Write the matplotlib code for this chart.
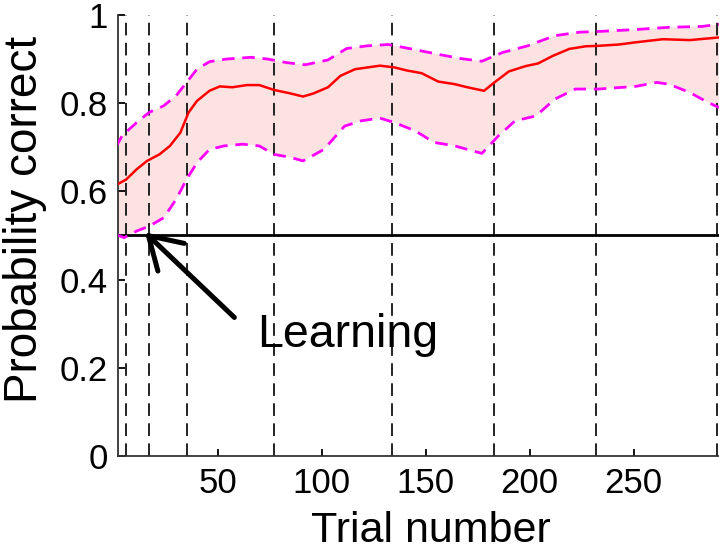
import matplotlib
matplotlib.use("Agg")
import matplotlib.pyplot as plt

# mean probability correct (red) and its confidence bounds (magenta)
mean_x = [1, 6, 11, 16, 22, 27, 32, 36, 40, 46, 51, 57, 64, 70, 77, 85, 91, 96,
          103, 109, 116, 122, 128, 135, 141, 148, 156, 164, 170, 178, 183, 190,
          198, 204, 211, 219, 227, 233, 243, 251, 264, 277, 291]
mean_y = [.614, .627, .65, .669, .684, .703, .733, .779, .805, .828, .838, .836,
          .841, .841, .83, .822, .815, .822, .836, .862, .877, .881, .885, .881,
          .874, .868, .849, .843, .836, .828, .847, .872, .884, .89, .907, .923,
          .929, .93, .933, .938, .945, .943, .949]

upper_x = [1, 4, 11, 17, 24, 30, 35, 40, 46, 54, 66, 74, 83, 92, 103, 112, 122,
           132, 143, 158, 167, 177, 187, 199, 212, 224, 235, 251, 267, 283, 291]
upper_y = [.70, .726, .756, .779, .794, .817, .847, .877, .894, .90, .904, .90,
           .892, .887, .898, .924, .93, .933, .923, .909, .901, .895, .915, .93,
           .953, .961, .963, .967, .972, .974, .979]

lower_x = [1, 5, 11, 17, 24, 30, 35, 40, 46, 53, 62, 70, 77, 85, 91, 101, 111,
           119, 128, 135, 145, 154, 164, 177, 185, 193, 203, 212, 222, 233, 251,
           261, 267, 277, 286, 291]
lower_y = [.502, .495, .51, .521, .54, .582, .627, .665, .695, .703, .707, .703,
           .684, .677, .669, .695, .748, .76, .766, .756, .737, .711, .703, .686,
           .726, .76, .771, .809, .832, .832, .838, .847, .843, .824, .801, .79]

# trials where a learning change point was detected
change_trials = [6, 17, 35, 77, 134, 183, 232, 290]
chance = 0.5

xticks = [50, 100, 150, 200, 250]
yticks = [0, 0.2, 0.4, 0.6, 0.8, 1]
ytick_labels = ["0", "0.2", "0.4", "0.6", "0.8", "1"]

plt.rcParams['font.family'] = ['Liberation Sans', 'DejaVu Sans']

fig = plt.figure(figsize=(7.19, 5.54), dpi=100)
ax = fig.add_axes([0.164, 0.177, 0.836, 0.796])

# shaded band between the bounds
poly_x = list(upper_x) + list(lower_x[::-1])
poly_y = list(upper_y) + list(lower_y[::-1])
ax.fill(poly_x, poly_y, color='#fde2e2', lw=0, zorder=1)

for t in change_trials:
    ax.axvline(t, color='#222222', lw=1.4, ls=(0, (6.5, 3.8)), zorder=2)

ax.axhline(chance, color='black', lw=2, zorder=3)

ax.plot(upper_x, upper_y, color='#ff00ff', lw=2, ls=(0, (4.5, 2.8)), zorder=4)
ax.plot(lower_x, lower_y, color='#ff00ff', lw=2, ls=(0, (4.5, 2.8)), zorder=4)
ax.plot(mean_x, mean_y, color='red', lw=1.8, zorder=5)

ax.annotate('', xy=(15, 0.507), xytext=(58, 0.314),
            arrowprops=dict(arrowstyle='->,head_length=0.9,head_width=0.55',
                            lw=3.6, color='black', mutation_scale=25,
                            shrinkA=0, shrinkB=0), zorder=6)
ax.text(69, 0.248, 'Learning', fontsize=33.5, ha='left', va='baseline')

ax.set_xlim(2, 291)
ax.set_ylim(0, 1)
ax.set_xticks(xticks)
ax.set_yticks(yticks)
ax.set_yticklabels(ytick_labels)
ax.tick_params(direction='in', length=5, width=1.3, labelsize=25)
ax.tick_params(axis='x', pad=8)
ax.tick_params(axis='y', pad=7)

for side in ['top', 'right']:
    ax.spines[side].set_visible(False)
for side in ['left', 'bottom']:
    ax.spines[side].set_linewidth(1.3)
    ax.spines[side].set_color('#333333')

ax.set_xlabel('Trial number', fontsize=31)
ax.xaxis.set_label_coords(0.52, -0.125)
ax.set_ylabel('Probability correct', fontsize=33)
ax.yaxis.set_label_coords(-0.118, 0.537)

fig.savefig('out.png', dpi=100)
